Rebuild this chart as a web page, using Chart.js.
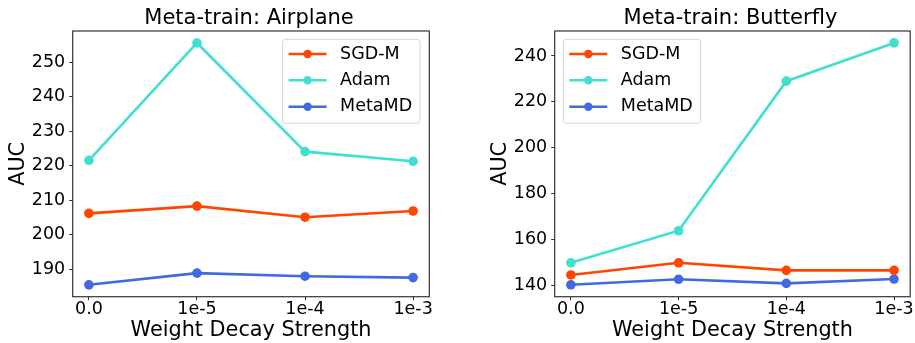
<!DOCTYPE html>
<html>
<head>
<meta charset="utf-8">
<script src="https://cdn.jsdelivr.net/npm/chart.js@4.4.0/dist/chart.umd.min.js"></script>
<style>
  html, body { margin: 0; padding: 0; background: #fff; }
  #wrap { position: relative; width: 915px; height: 343px; }
  canvas { position: absolute; top: 0; }
</style>
</head>
<body>
<div id="wrap">
  <canvas id="airplane" width="460" height="343" style="left:0"></canvas>
  <canvas id="butterfly" width="455" height="343" style="left:460px"></canvas>
</div>
<script>
// data
const categories = ['0.0', '1e-5', '1e-4', '1e-3'];
const seriesNames = ['SGD-M', 'Adam', 'MetaMD'];
const seriesColors = ['#FF4500', '#40E0D0', '#4169E1'];

const airplaneSgd = [206.2, 208.3, 205.1, 206.9];
const airplaneAdam = [221.6, 255.6, 224.1, 221.3];
const airplaneMeta = [185.5, 188.9, 188.0, 187.6];

const butterflySgd = [144.4, 149.7, 146.4, 146.4];
const butterflyAdam = [149.7, 163.7, 229.0, 245.7];
const butterflyMeta = [140.1, 142.5, 140.7, 142.6];

const airplaneTicks = [190, 200, 210, 220, 230, 240, 250];
const butterflyTicks = [140, 160, 180, 200, 220, 240];

const FONT = 'DejaVu Sans';

// title, frame and matplotlib-ish legend
const mplPlugin = {
    id: 'mpl',
    afterDraw(chart, args, opts) {
        const ctx = chart.ctx;
        const a = chart.chartArea;
        ctx.save();
        // frame
        ctx.strokeStyle = '#333';
        ctx.lineWidth = 1.2;
        ctx.strokeRect(a.left, a.top, a.right - a.left, a.bottom - a.top);
        // title
        ctx.fillStyle = '#000';
        ctx.font = '21px "' + FONT + '"';
        ctx.textAlign = 'center';
        ctx.textBaseline = 'middle';
        ctx.fillText(opts.title, (a.left + a.right) / 2 - 2, 19);
        // legend
        const w = 137.4, h = 84;
        const x0 = opts.side === 'right' ? a.right - 9.3 - w : a.left + 8.6;
        const y0 = a.top + 8.3;
        ctx.beginPath();
        ctx.roundRect(x0, y0, w, h, 3);
        ctx.fillStyle = 'rgba(255,255,255,0.8)';
        ctx.fill();
        ctx.strokeStyle = '#d4d4d4';
        ctx.lineWidth = 1;
        ctx.stroke();
        const rows = [14.7, 41, 67.4];
        ctx.font = '17.5px "' + FONT + '"';
        ctx.textAlign = 'left';
        chart.data.datasets.forEach((ds, i) => {
            const y = y0 + rows[i];
            ctx.strokeStyle = ds.borderColor;
            ctx.lineWidth = 2.6;
            ctx.beginPath();
            ctx.moveTo(x0 + 6, y);
            ctx.lineTo(x0 + 44, y);
            ctx.stroke();
            ctx.fillStyle = ds.borderColor;
            ctx.beginPath();
            ctx.arc(x0 + 25, y, 4.2, 0, Math.PI * 2);
            ctx.fill();
            ctx.fillStyle = '#000';
            ctx.fillText(ds.label, x0 + 57.5, y);
        });
        ctx.restore();
    }
};

function makeChart(id, values, yMin, yMax, yTicks, title, side, yAxisWidth, rightPad, yTitlePad) {
    const datasets = values.map((vals, i) => ({
        label: seriesNames[i],
        data: vals.map((v, j) => ({ x: j, y: v })),
        borderColor: seriesColors[i],
        backgroundColor: seriesColors[i],
        borderWidth: 2.6,
        pointRadius: 4.8,
        pointBorderWidth: 0,
        tension: 0
    }));
    return new Chart(document.getElementById(id), {
        type: 'line',
        data: { datasets },
        options: {
            responsive: false,
            animation: false,
            layout: { padding: { top: 31, right: rightPad, left: 0, bottom: 0 } },
            plugins: {
                legend: { display: false },
                title: { display: false },
                tooltip: { enabled: false },
                mpl: { title, side }
            },
            scales: {
                x: {
                    type: 'linear',
                    min: -0.15,
                    max: 3.15,
                    afterBuildTicks: s => { s.ticks = categories.map((c, i) => ({ value: i })); },
                    afterFit: s => { s.height = 46.3; },
                    ticks: {
                        callback: v => categories[v],
                        font: { family: FONT, size: 17.5 },
                        color: '#000',
                        padding: -1,
                        maxRotation: 0
                    },
                    grid: { drawOnChartArea: false, tickLength: 3.5, color: '#333', tickWidth: 1 },
                    border: { display: false },
                    title: {
                        display: true,
                        text: 'Weight Decay Strength',
                        font: { family: FONT, size: 20.8 },
                        color: '#000',
                        padding: { top: 0, bottom: 0 }
                    }
                },
                y: {
                    min: yMin,
                    max: yMax,
                    afterBuildTicks: s => { s.ticks = yTicks.map(v => ({ value: v })); },
                    afterFit: s => { s.width = yAxisWidth; },
                    ticks: {
                        font: { family: FONT, size: 17.5 },
                        color: '#000',
                        padding: 4
                    },
                    grid: { drawOnChartArea: false, tickLength: 3.5, color: '#333', tickWidth: 1 },
                    border: { display: false },
                    title: {
                        display: true,
                        text: 'AUC',
                        font: { family: FONT, size: 20.8 },
                        color: '#000',
                        padding: { top: yTitlePad, bottom: 0 }
                    }
                }
            }
        },
        plugins: [mplPlugin]
    });
}

makeChart('airplane', [airplaneSgd, airplaneAdam, airplaneMeta], 182.06, 259.07, airplaneTicks,
    'Meta-train: Airplane', 'right', 72.7, 30.7, 5.8);
makeChart('butterfly', [butterflySgd, butterflyAdam, butterflyMeta], 134.9, 250.9, butterflyTicks,
    'Meta-train: Butterfly', 'left', 94.7, 4, 28.2);
</script>
</body>
</html>
